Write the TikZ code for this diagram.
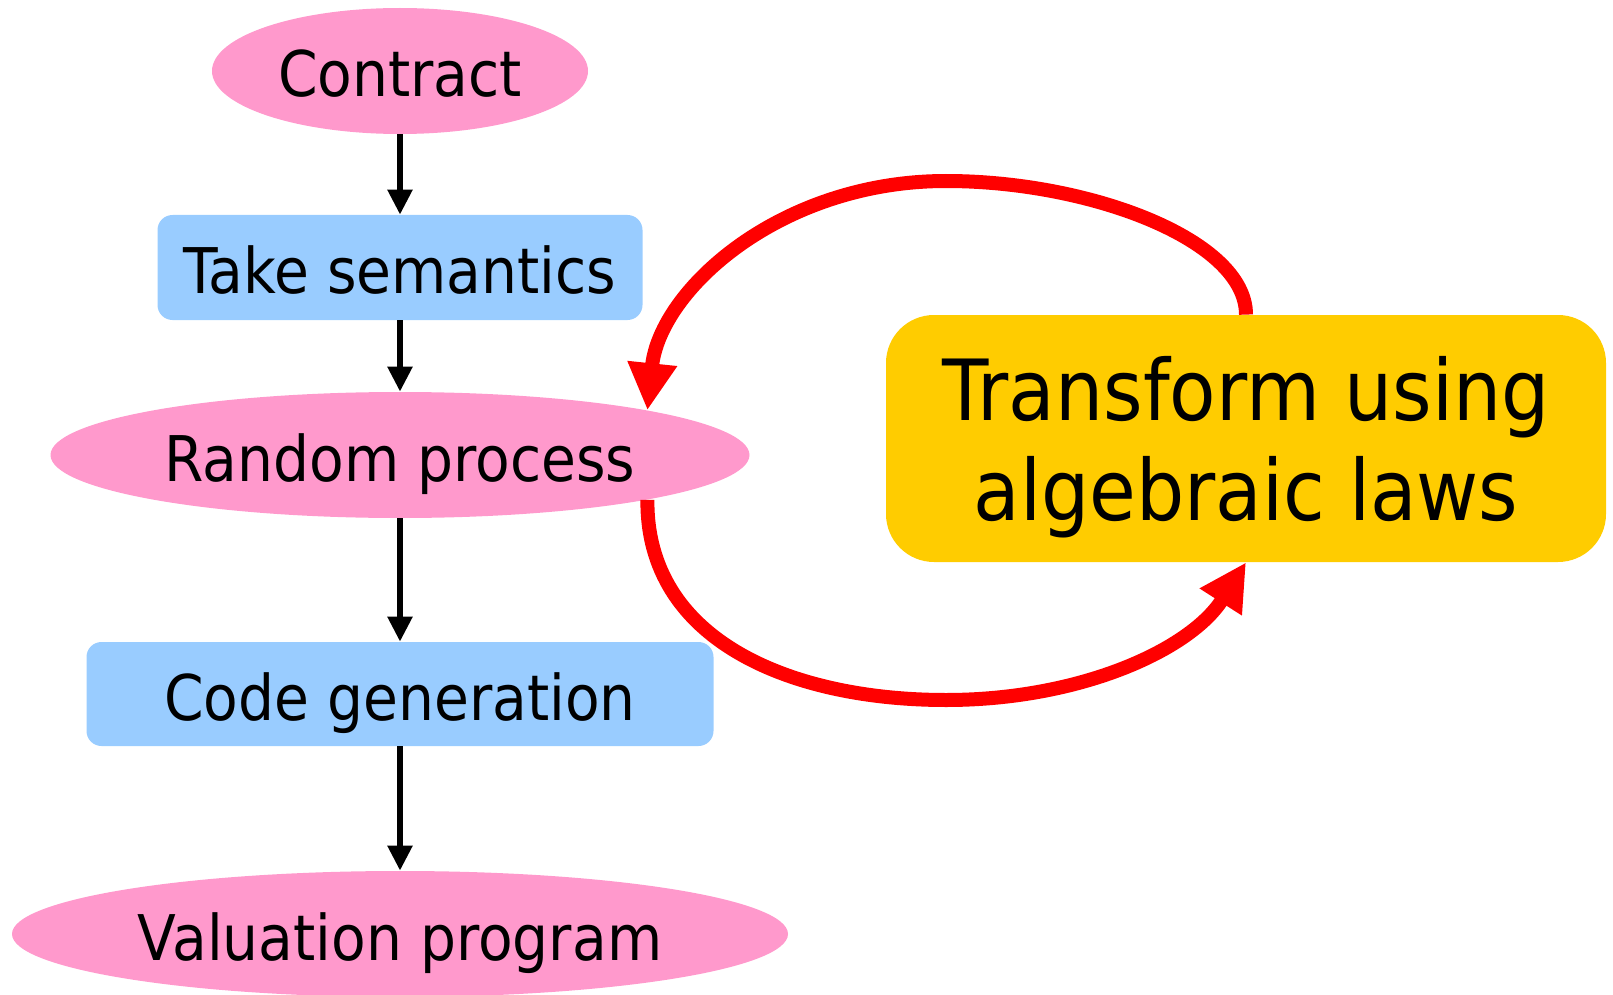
\documentclass[tikz,border=0pt]{standalone}
\usepackage{fontspec}
\usetikzlibrary{arrows.meta,shapes.geometric}
\newfontfamily\lab[FakeStretch=0.9]{DejaVu Sans}
\definecolor{pinkfill}{HTML}{FF99CC}
\definecolor{bluefill}{HTML}{99CCFF}
\definecolor{goldfill}{HTML}{FFCC00}
\definecolor{loopred}{HTML}{FF0000}
\tikzset{
  stagefont/.style={font=\lab\fontsize{31.5}{38}\selectfont,
    text height=26pt, text depth=0pt},
  oval/.style={ellipse, fill=pinkfill, inner sep=0pt, stagefont},
  stepbox/.style={rectangle, rounded corners=7.5pt, fill=bluefill, inner sep=0pt,
    stagefont},
  lawbox/.style={rectangle, rounded corners=24pt, fill=goldfill, inner sep=0pt,
    align=center, text depth=0pt, font=\lab\fontsize{42.2}{50.4}\selectfont},
  flow/.style={line width=2.8pt, -{Triangle[length=12.5pt,width=12pt]}},
  loop/.style={line width=7pt, draw=loopred,
    -{Triangle[length=23.5pt,width=23.5pt,fill=loopred]}}
}
\begin{document}
\begin{tikzpicture}[x=0.5pt,y=-0.5pt]
\useasboundingbox (0,0) rectangle (1613,995);

% main pipeline
\node[oval, minimum width=188pt, minimum height=63pt] (contract) at (400,71) {Contract};
\node[stepbox, minimum width=242.5pt, minimum height=52.5pt] (sem) at (400,267.5) {Take semantics};
\node[oval, minimum width=349.5pt, minimum height=63pt] (rp) at (400,455) {Random process};
\node[stepbox, minimum width=313.5pt, minimum height=52pt] (code) at (400,694) {Code generation};
\node[oval, minimum width=388pt, minimum height=63pt] (val) at (400,934) {Valuation program};

% transformation step
\node[lawbox, minimum width=360pt, minimum height=123.5pt] (law) at (1246,438.5)
  {Transform using\\algebraic laws};

\draw[flow] (contract) -- (sem);
\draw[flow] (sem) -- (rp);
\draw[flow] (rp) -- (code);
\draw[flow] (code) -- (val);

% loop through the algebraic laws
\coordinate (top) at (946,181);
\coordinate (bot) at (946,700);
\draw[loop] (law.north) .. controls (1246,240) and (1090,181) .. (top)
  .. controls (780,181) and (660,290) .. (rp.north east);
\draw[loop] (rp.south east) .. controls (646,640) and (790,700) .. (bot)
  .. controls (1080,700) and (1190,650) .. (law.south);
\end{tikzpicture}
\end{document}
